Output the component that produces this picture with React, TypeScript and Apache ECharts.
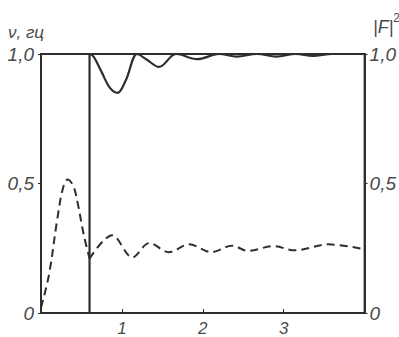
import React, { useEffect, useRef } from "react";
import * as echarts from "echarts";

// Solid curve |F|^2 : jump at x = 0.6 then damped oscillation near 1.0
const jumpSolid: [number, number][] = [
  [0, 0],
  [0.6, 0],
  [0.6, 1.0],
];
const oscSolid: [number, number][] = [
  [0.6, 1.0],
  [0.65, 0.99],
  [0.75, 0.93],
  [0.85, 0.87],
  [0.945, 0.85],
  [1.05, 0.9],
  [1.19, 1.0],
  [1.3, 0.98],
  [1.46, 0.95],
  [1.67, 1.0],
  [1.93, 0.98],
  [2.2, 1.0],
  [2.42, 0.99],
  [2.67, 1.0],
  [2.91, 0.99],
  [3.15, 1.0],
  [3.36, 0.993],
  [3.6, 1.0],
  [4.0, 1.0],
];
// Dashed curve ν (frequency)
const dashBefore: [number, number][] = [
  [0, 0.02],
  [0.1, 0.15],
  [0.2, 0.36],
  [0.27, 0.48],
  [0.33, 0.515],
  [0.4, 0.49],
  [0.45, 0.43],
  [0.53, 0.3],
  [0.6, 0.21],
];
const dashAfter: [number, number][] = [
  [0.6, 0.21],
  [0.88, 0.3],
  [1.13, 0.215],
  [1.34, 0.27],
  [1.58, 0.235],
  [1.83, 0.265],
  [2.11, 0.235],
  [2.36, 0.26],
  [2.56, 0.24],
  [2.87, 0.258],
  [3.14, 0.242],
  [3.55, 0.265],
  [4.0, 0.246],
];
const xTicks = [1, 2, 3];

const INK = "#2e2e2e";
const TXT = "#4a4a4a";
const FONT = "Liberation Sans";

const fmtY = (v: number) => (v === 0 ? "0" : v.toFixed(1).replace(".", ","));

export default function App() {
  const ref = useRef<HTMLDivElement>(null);
  useEffect(() => {
    if (!ref.current) return;
    const chart = echarts.init(ref.current, undefined, { renderer: "svg" });
    const labelStyle = {
      color: TXT,
      fontFamily: FONT,
      fontStyle: "italic" as const,
      fontSize: 19,
    };
    chart.setOption({
      animation: false,
      backgroundColor: "#ffffff",
      grid: {
        left: 41,
        right: 32,
        top: 54,
        bottom: 23,
        show: true,
        borderColor: INK,
        borderWidth: 2,
      },
      xAxis: {
        type: "value",
        min: 0,
        max: 4,
        interval: 1,
        axisLine: { show: true, lineStyle: { color: INK, width: 2 } },
        axisTick: { show: true, inside: true, length: 4, lineStyle: { color: INK } },
        splitLine: { show: false },
        axisLabel: {
          ...labelStyle,
          fontSize: 17,
          margin: 7,
          formatter: (v: number) => (xTicks.includes(v) ? String(v) : ""),
        },
      },
      yAxis: [
        {
          type: "value",
          min: 0,
          max: 1,
          interval: 0.5,
          position: "left",
          axisLine: { show: true, lineStyle: { color: INK, width: 2 } },
          axisTick: { show: true, length: 3, lineStyle: { color: INK } },
          splitLine: { show: false },
          axisLabel: { ...labelStyle, margin: 7, formatter: fmtY },
        },
        {
          type: "value",
          min: 0,
          max: 1,
          interval: 0.5,
          position: "right",
          axisLine: { show: true, lineStyle: { color: INK, width: 2 } },
          axisTick: { show: true, length: 3, lineStyle: { color: INK } },
          splitLine: { show: false },
          axisLabel: { ...labelStyle, margin: 5, formatter: fmtY },
        },
      ],
      graphic: [
        {
          type: "text",
          left: 8,
          top: 24,
          style: {
            text: "ν, гц",
            fill: TXT,
            font: `italic 17px "${FONT}"`,
          },
        },
        {
          type: "text",
          left: 373,
          top: 12,
          style: {
            text: "{a||F|}{b|2}",
            fill: TXT,
            rich: {
              a: {
                fontFamily: FONT,
                fontStyle: "italic",
                fontSize: 18,
                lineHeight: 24,
                verticalAlign: "bottom",
                fill: TXT,
              },
              b: {
                fontFamily: FONT,
                fontSize: 12,
                lineHeight: 24,
                verticalAlign: "top",
                fill: TXT,
              },
            },
          },
        },
      ],
      series: [
        {
          type: "line",
          data: jumpSolid,
          showSymbol: false,
          lineStyle: { color: INK, width: 2.2 },
          z: 3,
        },
        {
          type: "line",
          data: oscSolid,
          smooth: 0.35,
          showSymbol: false,
          lineStyle: { color: INK, width: 2.2 },
          z: 3,
        },
        {
          type: "line",
          data: dashBefore,
          smooth: 0.35,
          showSymbol: false,
          lineStyle: { color: INK, width: 2, type: [8, 5] },
          z: 3,
        },
        {
          type: "line",
          data: dashAfter,
          smooth: 0.35,
          showSymbol: false,
          lineStyle: { color: INK, width: 2, type: [8, 5] },
          z: 3,
        },
      ],
    });
    return () => chart.dispose();
  }, []);
  return (
    <div
      ref={ref}
      style={{ position: "fixed", left: 0, top: 0, width: 399, height: 337 }}
    />
  );
}
